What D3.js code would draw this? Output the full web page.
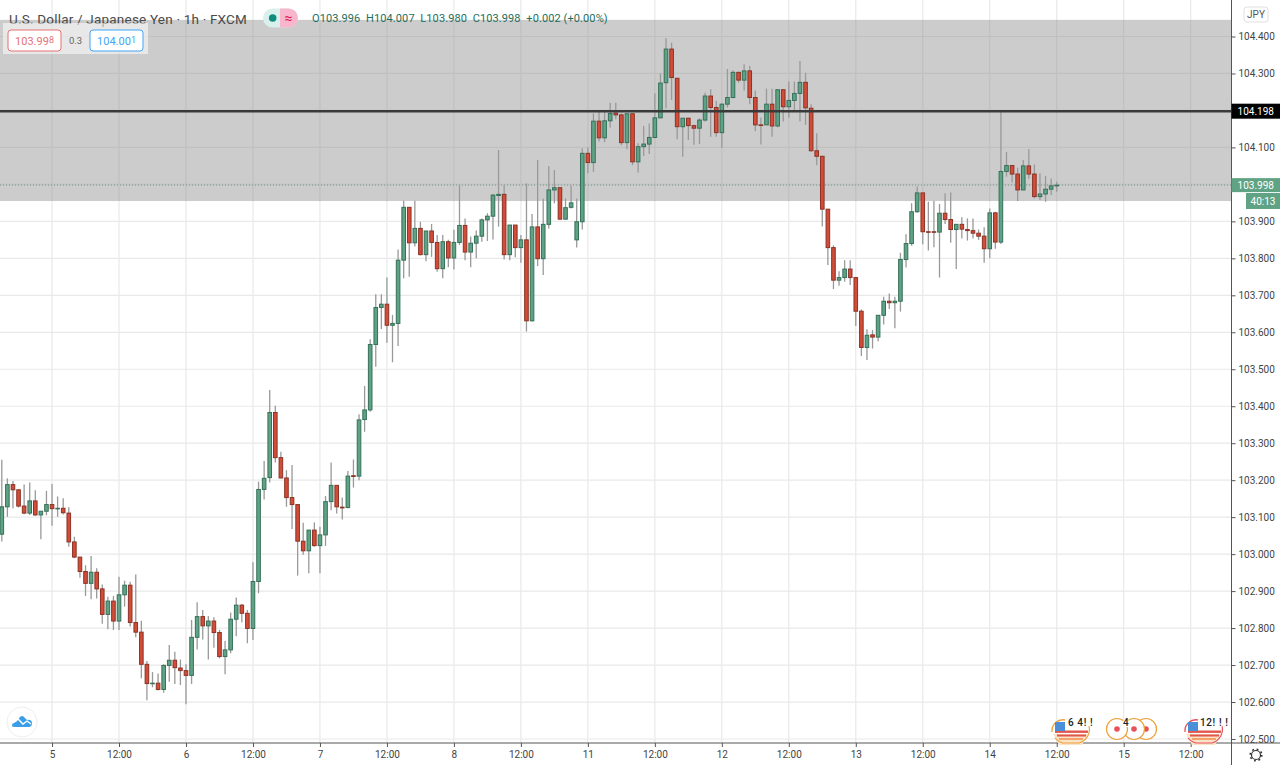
<!DOCTYPE html>
<html>
<head>
<meta charset="utf-8">
<title>USD/JPY 1h</title>
<script src="https://cdnjs.cloudflare.com/ajax/libs/d3/7.8.5/d3.min.js"></script>
<style>
body{margin:0;background:#fff;}
svg{display:block;font-family:Roboto,sans-serif;}
.domain{display:none;}
</style>
</head>
<body>
<svg id="chart" width="1280" height="771"></svg>
<script>
// candles, one per hour of trading
var opens=[103.054,103.128,103.188,103.174,103.130,103.111,103.144,103.106,103.116,103.134,
103.124,103.124,103.111,103.033,102.992,102.953,102.921,102.951,102.906,102.837,
102.873,102.819,102.890,102.916,102.815,102.789,102.702,102.651,102.651,102.634,
102.699,102.713,102.692,102.685,102.672,102.775,102.831,102.806,102.819,102.788,
102.723,102.741,102.824,102.862,102.840,102.799,102.926,103.175,103.207,103.383,
103.261,103.206,103.153,103.134,103.035,103.009,103.065,103.023,103.052,103.142,
103.186,103.127,103.126,103.212,103.211,103.364,103.390,103.567,103.667,103.676,
103.619,103.624,103.795,103.938,103.842,103.881,103.810,103.874,103.843,103.772,
103.845,103.801,103.843,103.889,103.817,103.841,103.860,103.904,103.914,103.970,
103.973,103.810,103.890,103.829,103.850,103.631,103.885,103.799,103.892,103.985,
103.991,103.906,103.938,103.850,103.899,104.084,104.059,104.171,104.126,104.172,
104.193,104.188,104.113,104.191,104.061,104.102,104.109,104.127,104.180,104.275,
104.366,104.287,104.156,104.179,104.159,104.152,104.174,104.239,104.208,104.140,
104.217,104.235,104.303,104.282,104.307,104.235,104.161,104.161,104.217,104.158,
104.256,104.210,104.227,104.246,104.276,104.206,104.091,104.076,103.933,103.829,
103.741,103.748,103.771,103.748,103.657,103.559,103.593,103.587,103.646,103.684,
103.680,103.684,103.797,103.840,103.926,103.977,103.872,103.872,103.871,103.922,
103.905,103.878,103.892,103.878,103.875,103.868,103.860,103.826,103.923,103.844,
104.035,104.051,104.028,103.985,104.050,104.028,103.967,103.974,103.987,103.996];

var highs=[103.255,103.205,103.198,103.174,103.188,103.194,103.173,103.116,103.171,103.190,
103.156,103.151,103.127,103.047,102.992,102.970,102.995,102.962,102.918,102.885,
102.887,102.939,102.928,102.925,102.945,102.820,102.711,102.681,102.677,102.702,
102.754,102.736,102.715,102.702,102.822,102.870,102.849,102.833,102.829,102.795,
102.765,102.842,102.883,102.865,102.849,102.978,103.196,103.252,103.444,103.401,
103.277,103.227,103.241,103.134,103.085,103.065,103.086,103.074,103.157,103.248,
103.186,103.153,103.225,103.256,103.378,103.455,103.581,103.703,103.703,103.748,
103.647,103.824,103.956,103.938,103.956,103.899,103.874,103.893,103.863,103.863,
103.850,103.877,103.999,103.908,103.859,103.875,103.908,103.922,103.974,104.093,
103.998,103.890,103.890,103.863,104.003,103.920,104.066,103.962,104.050,104.039,
103.991,103.962,103.996,103.962,104.098,104.100,104.192,104.201,104.201,104.221,
104.221,104.192,104.192,104.192,104.111,104.158,104.165,104.246,104.300,104.395,
104.383,104.287,104.179,104.179,104.161,104.179,104.248,104.257,104.226,104.219,
104.312,104.309,104.305,104.325,104.320,104.254,104.181,104.259,104.259,104.257,
104.257,104.278,104.278,104.334,104.302,104.217,104.138,104.077,103.933,103.835,
103.765,103.795,103.795,103.748,103.662,103.608,103.606,103.646,103.696,103.705,
103.696,103.815,103.865,103.949,103.994,103.977,103.953,103.956,103.947,103.976,
103.978,103.892,103.911,103.908,103.908,103.878,103.884,103.935,103.926,104.198,
104.088,104.052,104.045,104.066,104.095,104.054,104.030,104.023,104.016,104.007];

var lows=[103.034,103.101,103.124,103.126,103.108,103.106,103.104,103.040,103.105,103.077,
103.101,103.107,103.020,102.989,102.936,102.887,102.878,102.880,102.812,102.797,
102.795,102.795,102.858,102.804,102.775,102.664,102.605,102.640,102.631,102.625,
102.655,102.649,102.646,102.594,102.649,102.742,102.769,102.715,102.747,102.718,
102.675,102.732,102.778,102.815,102.759,102.768,102.894,103.148,103.194,103.248,
103.205,103.128,103.068,102.942,102.998,102.948,103.020,102.948,103.022,103.119,
103.110,103.094,103.124,103.180,103.200,103.331,103.385,103.507,103.609,103.572,
103.519,103.563,103.746,103.750,103.832,103.808,103.792,103.804,103.764,103.746,
103.776,103.770,103.836,103.795,103.776,103.800,103.845,103.847,103.851,103.886,
103.797,103.795,103.803,103.788,103.602,103.629,103.779,103.755,103.881,103.949,
103.905,103.905,103.935,103.829,103.878,104.030,104.034,104.116,104.114,104.154,
104.176,104.106,104.095,104.052,104.032,104.077,104.082,104.125,104.179,104.206,
104.228,104.122,104.075,104.120,104.107,104.109,104.170,104.129,104.129,104.099,
104.208,104.233,104.275,104.254,104.217,104.144,104.108,104.161,104.129,104.154,
104.170,104.180,104.199,104.170,104.161,104.088,104.052,103.886,103.782,103.717,
103.726,103.737,103.728,103.617,103.536,103.525,103.556,103.576,103.621,103.663,
103.611,103.656,103.775,103.834,103.923,103.838,103.821,103.830,103.748,103.893,
103.842,103.771,103.854,103.848,103.854,103.850,103.788,103.800,103.826,103.839,
104.021,104.005,103.955,103.985,104.015,103.962,103.958,103.953,103.971,103.980];

var closes=[103.128,103.188,103.174,103.130,103.111,103.144,103.106,103.116,103.134,103.123,
103.124,103.112,103.033,102.992,102.953,102.921,102.951,102.906,102.837,102.873,
102.819,102.890,102.916,102.815,102.789,102.702,102.650,102.651,102.634,102.699,
102.713,102.693,102.685,102.672,102.775,102.831,102.806,102.819,102.788,102.723,
102.741,102.824,102.862,102.840,102.799,102.926,103.175,103.205,103.383,103.261,
103.206,103.153,103.134,103.035,103.009,103.065,103.023,103.052,103.142,103.186,
103.128,103.125,103.211,103.210,103.363,103.390,103.567,103.667,103.676,103.619,
103.624,103.795,103.938,103.842,103.881,103.810,103.874,103.843,103.772,103.845,
103.801,103.843,103.889,103.817,103.841,103.860,103.904,103.914,103.971,103.973,
103.810,103.890,103.829,103.850,103.631,103.885,103.799,103.892,103.985,103.991,
103.906,103.937,103.950,103.899,104.084,104.059,104.171,104.126,104.172,104.192,
104.188,104.113,104.191,104.061,104.102,104.109,104.127,104.180,104.274,104.366,
104.289,104.156,104.179,104.159,104.152,104.174,104.239,104.208,104.140,104.217,
104.235,104.303,104.282,104.307,104.235,104.161,104.160,104.217,104.158,104.256,
104.210,104.227,104.246,104.276,104.207,104.091,104.076,103.933,103.829,103.741,
103.748,103.771,103.748,103.657,103.559,103.592,103.587,103.646,103.684,103.680,
103.684,103.797,103.840,103.926,103.977,103.872,103.871,103.871,103.922,103.905,
103.878,103.892,103.879,103.875,103.868,103.860,103.826,103.923,103.844,104.035,
104.051,104.028,103.985,104.050,104.028,103.967,103.974,103.987,103.996,103.998];

// axis ticks
var priceTicks=[102.5,102.6,102.7,102.8,102.9,103,103.1,103.2,103.3,103.4,103.5,103.6,103.7,103.8,103.9,104,104.1,104.2,104.3,104.4];
var timeTickBars=[9,21,33,45,57,69,81,93,105,117,129,141,153,165,177,189,201,213];
var timeTickLabels=["5","12:00","6","12:00","7","12:00","8","12:00","11","12:00","12","12:00","13","12:00","14","12:00","15","12:00"];

// drawn zone and levels
var zoneTop=104.445, zoneBottom=103.955;
var levelLine=104.198, lastPrice=103.998;

var x=d3.scaleLinear().domain([0,201]).range([1.8,1123.7]);
var y=d3.scaleLinear().domain([102.5,104.4]).range([739,36.5]);
var svg=d3.select("#chart");
var plotRight=1231.5, plotBottom=743;

var grid=svg.append("g");
grid.selectAll("line.h").data(priceTicks).enter().append("line").attr("class","h")
	.attr("x1",0).attr("x2",plotRight).attr("y1",function(d){return y(d);}).attr("y2",function(d){return y(d);})
	.attr("stroke","#e9e9e9").attr("stroke-width",1.2);
grid.selectAll("line.v").data(timeTickBars).enter().append("line").attr("class","v")
	.attr("x1",function(d){return x(d);}).attr("x2",function(d){return x(d);}).attr("y1",0).attr("y2",plotBottom)
	.attr("stroke","#e9e9e9").attr("stroke-width",1.2);

// grey zone
svg.append("rect").attr("x",0).attr("width",plotRight).attr("y",y(zoneTop)).attr("height",y(zoneBottom)-y(zoneTop))
	.attr("fill","#8c8c8c").attr("fill-opacity",0.44);

// dotted last price
svg.append("line").attr("x1",0).attr("x2",plotRight).attr("y1",y(lastPrice)).attr("y2",y(lastPrice))
	.attr("stroke","#6f9a86").attr("stroke-width",1).attr("stroke-dasharray","1,2");

// candles
var barIdx=d3.range(opens.length);
var candles=svg.append("g");
candles.selectAll("line").data(barIdx).enter().append("line")
	.attr("x1",function(i){return x(i);}).attr("x2",function(i){return x(i);})
	.attr("y1",function(i){return y(highs[i]);}).attr("y2",function(i){return y(lows[i]);})
	.attr("stroke","#999").attr("stroke-width",1.3);
candles.selectAll("rect").data(barIdx).enter().append("rect")
	.attr("x",function(i){return x(i)-1.8;}).attr("width",3.6)
	.attr("y",function(i){return y(Math.max(opens[i],closes[i]));})
	.attr("height",function(i){return Math.max(0.6,Math.abs(y(opens[i])-y(closes[i])));})
	.attr("fill",function(i){return closes[i]>=opens[i]?"#60a384":"#d24c37";})
	.attr("stroke",function(i){return closes[i]>=opens[i]?"#35705a":"#8a3326";})
	.attr("stroke-width",1);

// level line over the candles
svg.append("line").attr("x1",0).attr("x2",plotRight).attr("y1",y(levelLine)).attr("y2",y(levelLine))
	.attr("stroke","#3a3a3a").attr("stroke-width",2.6);

// price axis
var yAxis=d3.axisRight(y).tickValues(priceTicks).tickFormat(d3.format(".3f")).tickSize(4).tickPadding(3);
var gy=svg.append("g").attr("transform","translate("+plotRight+",0)").call(yAxis);
gy.selectAll("text").attr("font-size",10).attr("font-family","Roboto").attr("fill","#444");
gy.selectAll("line").attr("stroke","#555");

// time axis
var xAxis=d3.axisBottom(x).tickValues(timeTickBars).tickFormat(function(d,i){return timeTickLabels[i];}).tickSize(4).tickPadding(4);
var gx=svg.append("g").attr("transform","translate(0,"+plotBottom+")").call(xAxis);
gx.selectAll("text").attr("font-size",10).attr("font-family","Roboto").attr("fill","#444");
gx.selectAll("line").attr("stroke","#555");

svg.append("line").attr("x1",plotRight).attr("x2",plotRight).attr("y1",0).attr("y2",765).attr("stroke","#555").attr("stroke-width",1);
svg.append("line").attr("x1",0).attr("x2",1280).attr("y1",plotBottom).attr("y2",plotBottom).attr("stroke","#555").attr("stroke-width",1);

// price labels
function priceBox(px,py,w,h,fondo,texto,color){
	svg.append("rect").attr("x",px).attr("y",py).attr("width",w).attr("height",h).attr("fill",fondo);
	svg.append("text").attr("x",px+w/2).attr("y",py+h/2+3.5).attr("text-anchor","middle").attr("font-size",10)
		.attr("fill",color).text(texto);
}
priceBox(plotRight,y(levelLine)-7.5,48.5,15,"#000",d3.format(".3f")(levelLine),"#fff");
priceBox(plotRight,y(lastPrice)-7,48.5,14,"#60a384",d3.format(".3f")(lastPrice),"#fff");
priceBox(1246,193,34,16,"#60a384","40:13","#fff");

// JPY button
svg.append("rect").attr("x",1244).attr("y",7).attr("width",24).attr("height",15).attr("rx",3).attr("fill","#fff").attr("stroke","#e0e0e0");
svg.append("text").attr("x",1256).attr("y",18).attr("text-anchor","middle").attr("font-size",10).attr("fill","#555").text("JPY");

// header
svg.append("text").attr("x",9).attr("y",23.5).attr("font-size",13.5).attr("fill","#4a4a4a").attr("letter-spacing",0.2)
	.text("U.S. Dollar / Japanese Yen · 1h · FXCM");
svg.append("rect").attr("x",263).attr("y",8.5).attr("width",35).attr("height",19).attr("rx",9.5).attr("fill","#d9f0ec");
svg.append("path").attr("d","M280,8.5h8.5a9.5,9.5 0 0 1 0,19h-8.5z").attr("fill","#f8b6cc");
svg.append("circle").attr("cx",272.7).attr("cy",18).attr("r",3.8).attr("fill","#0e8c7e");
svg.append("text").attr("x",288.5).attr("y",23).attr("text-anchor","middle").attr("font-size",14).attr("fill","#d81b60").text("≈");
var ohlc=svg.append("text").attr("x",312).attr("y",22).attr("font-size",11).attr("fill","#1e6f5c").attr("letter-spacing",0.1);
ohlc.text("O103.996  H104.007  L103.980  C103.998  +0.002 (+0.00%)").attr("xml:space","preserve");

// bid / ask panel
svg.append("rect").attr("x",3).attr("y",23).attr("width",145).attr("height",31).attr("fill","#fff").attr("fill-opacity",0.55);
function quote(px,w,color,main,sup){
	svg.append("rect").attr("x",px).attr("y",30).attr("width",w).attr("height",21).attr("rx",3).attr("fill","#fff").attr("stroke",color);
	var t=svg.append("text").attr("x",px+w/2).attr("y",44.5).attr("text-anchor","middle").attr("font-size",11).attr("fill",color);
	t.append("tspan").text(main);
	t.append("tspan").attr("font-size",9).attr("dy",-1.5).text(sup);
}
quote(8,53,"#e57373","103.99","8");
svg.append("text").attr("x",69).attr("y",44).attr("font-size",9.5).attr("fill","#666").text("0.3");
quote(90,53,"#42a5f5","104.00","1");

// logo
svg.append("circle").attr("cx",22).attr("cy",722).attr("r",15).attr("fill","#fff").attr("stroke","#eee");
svg.append("path").attr("d","M12,726q0,-4 4,-4l4,-5q2,-2 4,0l3,3q5,-1 5,3.5q0,3 -3,3.5h-14q-3,0 -3,-1z").attr("fill","#3a9fe8");
svg.append("path").attr("d","M13,723l5,-4l5,5l4,-3l4,3").attr("fill","none").attr("stroke","#fff").attr("stroke-width",1.4);

// calendar events on the time axis
function usFlag(cx,color){
	var s=svg.append("g").attr("transform","translate("+cx+",729)");
	s.append("path").attr("d","M-17,5h35l-6,11h-23z").attr("fill","#fbe3c8");
	s.append("rect").attr("x",-15).attr("y",1.5).attr("width",33).attr("height",2.4).attr("fill","#e2574c");
	s.append("rect").attr("x",-13).attr("y",5.5).attr("width",29).attr("height",2).attr("fill","#e2574c");
	s.append("rect").attr("x",-11).attr("y",9).attr("width",24).attr("height",2).attr("fill","#f4a26b");
	s.append("path").attr("d","M-18,3a11,11 0 0 1 13,-12").attr("fill","none").attr("stroke",color).attr("stroke-width",1.3);
	s.append("path").attr("d","M-15,9a14,14 0 0 0 8,5h16a14,14 0 0 0 10,-17").attr("fill","none").attr("stroke",color).attr("stroke-width",1.2);
	s.append("rect").attr("x",-15).attr("y",-7).attr("width",10).attr("height",9).attr("fill","#4a8fd8");
}
function dot(cx){
	svg.append("circle").attr("cx",cx).attr("cy",729).attr("r",10.5).attr("fill","#fff").attr("stroke","#eda03a").attr("stroke-width",1.2);
	svg.append("circle").attr("cx",cx).attr("cy",729).attr("r",2.8).attr("fill","#e8505b");
}
usFlag(1070,"#eda03a");
[1146,1134,1117].forEach(dot);
usFlag(1203,"#e8505b");
function eventText(px,t){
	svg.append("text").attr("x",px).attr("y",726).attr("font-size",10).attr("font-weight",500).attr("letter-spacing",0.6).attr("fill","#222")
		.attr("stroke","#fff").attr("stroke-width",2).attr("paint-order","stroke").text(t);
}
eventText(1068,"6 4! !");
eventText(1123,"4");
eventText(1200,"12! ! !");

// settings gear
svg.append("circle").attr("cx",1256).attr("cy",755).attr("r",4.5).attr("fill","none").attr("stroke","#333").attr("stroke-width",1.2);
svg.append("circle").attr("cx",1256).attr("cy",755).attr("r",5.8).attr("fill","none").attr("stroke","#333").attr("stroke-width",1.6).attr("stroke-dasharray","1.8,2.75");
</script>
</body>
</html>
